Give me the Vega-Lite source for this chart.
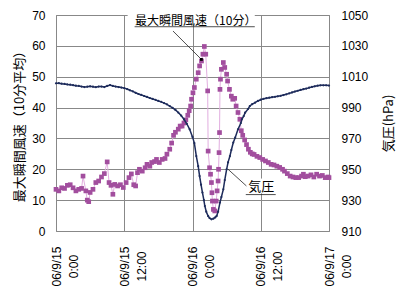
{
  "$schema": "https://vega.github.io/schema/vega-lite/v6.json",
  "width": 273,
  "height": 216,
  "autosize": {"type": "none"},
  "padding": {"left": 56, "top": 15, "right": 71, "bottom": 69},
  "background": "white",
  "config": {
    "view": {"stroke": "#888888", "strokeWidth": 1},
    "font": "Liberation Sans",
    "axis": {"labelColor": "#000000", "labelFontSize": 12, "labelFont": "Liberation Sans", "titleColor": "#000000"}
  },
  "datasets": {
    "wind": [
      {"h": 0, "v": 13.5}, {"h": 0.5, "v": 13.0}, {"h": 1, "v": 14.0}, {"h": 1.5, "v": 13.8}, {"h": 2, "v": 14.8},
      {"h": 2.5, "v": 15.0}, {"h": 3, "v": 14.0}, {"h": 3.5, "v": 13.0}, {"h": 4, "v": 13.5}, {"h": 4.5, "v": 13.8},
      {"h": 4.75, "v": 17.8}, {"h": 5.25, "v": 13.0}, {"h": 5.5, "v": 10.0}, {"h": 5.75, "v": 9.5}, {"h": 6, "v": 12.5},
      {"h": 6.5, "v": 13.5}, {"h": 7, "v": 15.7}, {"h": 7.5, "v": 16.2}, {"h": 8, "v": 17.5}, {"h": 8.5, "v": 18.6},
      {"h": 9, "v": 22.4}, {"h": 9.33, "v": 15.7}, {"h": 9.67, "v": 14.8}, {"h": 10, "v": 11.9}, {"h": 10.33, "v": 15.1},
      {"h": 10.83, "v": 14.6}, {"h": 11.33, "v": 15.0}, {"h": 11.83, "v": 14.1}, {"h": 12.33, "v": 15.7}, {"h": 12.83, "v": 17.3},
      {"h": 13.25, "v": 18.5}, {"h": 13.67, "v": 15.0}, {"h": 14, "v": 14.6}, {"h": 14.33, "v": 18.9}, {"h": 14.67, "v": 20.0},
      {"h": 15.17, "v": 19.4}, {"h": 15.67, "v": 20.5}, {"h": 16, "v": 21.6}, {"h": 16.5, "v": 21.0}, {"h": 16.83, "v": 22.2},
      {"h": 17.33, "v": 22.5}, {"h": 17.67, "v": 23.2}, {"h": 18.17, "v": 22.2}, {"h": 18.67, "v": 23.2}, {"h": 19.17, "v": 23.5},
      {"h": 19.5, "v": 24.9}, {"h": 20, "v": 26.5}, {"h": 20.33, "v": 28.5}, {"h": 20.67, "v": 31.0}, {"h": 21, "v": 32.0},
      {"h": 21.5, "v": 33.0}, {"h": 21.83, "v": 34.0}, {"h": 22.17, "v": 34.0}, {"h": 22.5, "v": 35.0}, {"h": 22.83, "v": 36.0},
      {"h": 23.17, "v": 37.5}, {"h": 23.42, "v": 39.0}, {"h": 23.67, "v": 40.5}, {"h": 23.83, "v": 42.7}, {"h": 24.08, "v": 44.8},
      {"h": 24.33, "v": 46.5}, {"h": 24.67, "v": 49.2}, {"h": 25, "v": 51.3}, {"h": 25.25, "v": 53.5}, {"h": 25.58, "v": 55.1},
      {"h": 25.83, "v": 57.3}, {"h": 26.08, "v": 59.8}, {"h": 26.33, "v": 57.3}, {"h": 26.67, "v": 45.4}, {"h": 26.75, "v": 25.9},
      {"h": 27, "v": 20.5}, {"h": 27.17, "v": 18.4}, {"h": 27.33, "v": 15.7}, {"h": 27.42, "v": 12.4}, {"h": 27.5, "v": 9.7},
      {"h": 27.67, "v": 7.0}, {"h": 27.92, "v": 6.5}, {"h": 28.17, "v": 9.7}, {"h": 28.33, "v": 13.0}, {"h": 28.5, "v": 16.2},
      {"h": 28.58, "v": 20.0}, {"h": 28.67, "v": 25.4}, {"h": 28.75, "v": 31.9}, {"h": 28.83, "v": 45.9}, {"h": 28.92, "v": 49.2},
      {"h": 29.08, "v": 52.4}, {"h": 29.42, "v": 54.6}, {"h": 29.67, "v": 53.0}, {"h": 30, "v": 50.8}, {"h": 30.17, "v": 48.6},
      {"h": 30.5, "v": 45.9}, {"h": 30.83, "v": 43.7}, {"h": 31.08, "v": 42.7}, {"h": 31.42, "v": 43.0}, {"h": 31.67, "v": 40.5},
      {"h": 32, "v": 38.4}, {"h": 32.33, "v": 36.2}, {"h": 32.58, "v": 32.5}, {"h": 32.83, "v": 31.0}, {"h": 33.17, "v": 29.5},
      {"h": 33.5, "v": 28.0}, {"h": 33.83, "v": 26.5}, {"h": 34.17, "v": 25.5}, {"h": 34.5, "v": 25.0}, {"h": 34.83, "v": 24.8},
      {"h": 35.33, "v": 24.2}, {"h": 35.83, "v": 23.8}, {"h": 36.33, "v": 23.2}, {"h": 36.83, "v": 22.7}, {"h": 37.33, "v": 22.2},
      {"h": 37.83, "v": 21.6}, {"h": 38.33, "v": 21.4}, {"h": 38.83, "v": 21.0}, {"h": 39.33, "v": 20.6}, {"h": 39.83, "v": 20.0},
      {"h": 40.17, "v": 19.4}, {"h": 40.67, "v": 18.6}, {"h": 41.17, "v": 17.8}, {"h": 41.67, "v": 17.5}, {"h": 42.17, "v": 17.3},
      {"h": 42.67, "v": 17.3}, {"h": 43.17, "v": 17.8}, {"h": 43.5, "v": 18.4}, {"h": 43.83, "v": 17.6}, {"h": 44.33, "v": 17.8},
      {"h": 44.83, "v": 18.2}, {"h": 45.33, "v": 17.5}, {"h": 45.83, "v": 18.4}, {"h": 46.33, "v": 17.8}, {"h": 46.83, "v": 18.0},
      {"h": 47.33, "v": 17.3}, {"h": 47.83, "v": 17.5}, {"h": 48, "v": 17.3}
    ],
    "pres": [
      {"h": 0, "p": 1005.7}, {"h": 0.5, "p": 1005.8}, {"h": 1, "p": 1005.5}, {"h": 1.5, "p": 1005.3}, {"h": 2, "p": 1005.0},
      {"h": 2.5, "p": 1004.8}, {"h": 3, "p": 1004.5}, {"h": 3.5, "p": 1004.2}, {"h": 4, "p": 1004.0}, {"h": 4.5, "p": 1003.6},
      {"h": 5, "p": 1003.3}, {"h": 5.5, "p": 1003.5}, {"h": 6, "p": 1003.8}, {"h": 6.5, "p": 1003.5}, {"h": 7, "p": 1003.2},
      {"h": 7.5, "p": 1003.6}, {"h": 8, "p": 1003.6}, {"h": 8.5, "p": 1003.3}, {"h": 9, "p": 1004.0}, {"h": 9.5, "p": 1004.6},
      {"h": 10, "p": 1004.0}, {"h": 10.5, "p": 1003.6}, {"h": 11, "p": 1003.3}, {"h": 11.5, "p": 1003.0}, {"h": 12, "p": 1002.6},
      {"h": 12.5, "p": 1002.0}, {"h": 13, "p": 1001.2}, {"h": 13.5, "p": 1000.5}, {"h": 14, "p": 999.6}, {"h": 14.5, "p": 998.8},
      {"h": 15, "p": 998.2}, {"h": 15.5, "p": 997.5}, {"h": 16, "p": 996.9}, {"h": 16.5, "p": 996.2}, {"h": 17, "p": 995.6},
      {"h": 17.5, "p": 995.0}, {"h": 18, "p": 994.3}, {"h": 18.5, "p": 993.7}, {"h": 19, "p": 992.9}, {"h": 19.5, "p": 992.1},
      {"h": 20, "p": 991.0}, {"h": 20.5, "p": 989.8}, {"h": 21, "p": 988.5}, {"h": 21.5, "p": 986.8}, {"h": 22, "p": 984.8},
      {"h": 22.5, "p": 982.4}, {"h": 23, "p": 979.5}, {"h": 23.5, "p": 975.9}, {"h": 24, "p": 971.0}, {"h": 24.33, "p": 967.0},
      {"h": 24.67, "p": 958.6}, {"h": 25, "p": 952.0}, {"h": 25.25, "p": 945.6}, {"h": 25.5, "p": 940.0}, {"h": 25.75, "p": 934.9},
      {"h": 26, "p": 930.0}, {"h": 26.17, "p": 926.2}, {"h": 26.42, "p": 922.5}, {"h": 26.75, "p": 919.7}, {"h": 27, "p": 918.4},
      {"h": 27.33, "p": 917.6}, {"h": 27.67, "p": 918.0}, {"h": 28, "p": 918.8}, {"h": 28.25, "p": 919.8}, {"h": 28.5, "p": 922.5},
      {"h": 28.83, "p": 928.4}, {"h": 29.08, "p": 932.0}, {"h": 29.42, "p": 937.0}, {"h": 29.67, "p": 943.0}, {"h": 30, "p": 950.0},
      {"h": 30.25, "p": 954.5}, {"h": 30.58, "p": 958.6}, {"h": 30.83, "p": 962.5}, {"h": 31.17, "p": 967.3}, {"h": 31.5, "p": 970.5},
      {"h": 32, "p": 975.9}, {"h": 32.5, "p": 980.0}, {"h": 32.67, "p": 982.4}, {"h": 33, "p": 984.5}, {"h": 33.25, "p": 986.7},
      {"h": 33.75, "p": 989.0}, {"h": 34.08, "p": 991.0}, {"h": 34.5, "p": 992.2}, {"h": 35, "p": 993.2}, {"h": 35.5, "p": 994.3},
      {"h": 36, "p": 995.1}, {"h": 36.5, "p": 995.7}, {"h": 37, "p": 996.1}, {"h": 37.5, "p": 996.4}, {"h": 38, "p": 996.7},
      {"h": 38.5, "p": 997.0}, {"h": 39, "p": 997.3}, {"h": 39.5, "p": 997.6}, {"h": 40, "p": 998.1}, {"h": 40.5, "p": 998.6},
      {"h": 41, "p": 999.2}, {"h": 41.5, "p": 999.8}, {"h": 42, "p": 1000.4}, {"h": 42.5, "p": 1000.9}, {"h": 43, "p": 1001.4},
      {"h": 43.5, "p": 1001.9}, {"h": 44, "p": 1002.3}, {"h": 44.5, "p": 1002.9}, {"h": 45, "p": 1003.4}, {"h": 45.5, "p": 1003.8},
      {"h": 46, "p": 1004.2}, {"h": 46.5, "p": 1004.4}, {"h": 47, "p": 1004.4}, {"h": 47.5, "p": 1004.4}, {"h": 48, "p": 1004.3}
    ],
    "boxes": [
      {"h": 12.6, "h2": 34.95, "v": 66.5, "v2": 72.5},
      {"h": 33.33, "h2": 38.67, "v": 12.2, "v2": 17.0}
    ],
    "rules": [
      {"h": 13.82, "h2": 34.95, "v": 66.2, "v2": 66.2},
      {"h": 33.37, "h2": 38.63, "v": 11.8, "v2": 11.8},
      {"h": 20.57, "h2": 25.57, "v": 64.8, "v2": 55.6},
      {"h": 30.25, "h2": 33.48, "v": 20.0, "v2": 14.6}
    ],
    "label1": [{"h": 24.57, "v": 68.05, "label": "最大瞬間風速（10分）"}],
    "label2": [{"h": 36.1, "v": 14.3, "label": "気圧"}],
    "dots": [{"h": 25.57, "v": 55.6}]
  },
  "layer": [
    {
      "data": {"name": "wind"},
      "mark": {"type": "line", "color": "#E2AEE0", "strokeWidth": 1},
      "encoding": {
        "x": {
          "field": "h", "type": "quantitative",
          "scale": {"domain": [0, 48], "nice": false, "zero": false},
          "axis": {
            "title": null, "grid": true, "gridColor": "#888888", "domain": false, "ticks": false,
            "values": [0, 12, 24, 36, 48],
            "labelAngle": 270, "labelAlign": "center", "labelBaseline": "middle", "labelPadding": 35,
            "labelLineHeight": 17, "labelFontSize": 12, "labelFlush": false, "labelOverlap": false,
            "labelExpr": "['06/9/' + (15 + floor(datum.value / 24)), (datum.value % 24) + ':00']"
          }
        },
        "y": {
          "field": "v", "type": "quantitative",
          "scale": {"domain": [0, 70], "nice": false, "zero": false},
          "axis": {
            "title": "最大瞬間風速（10分平均）", "titleFont": "Noto Sans CJK JP", "titleFontSize": 13, "titleFontWeight": "normal",
            "titlePadding": 5, "values": [0, 10, 20, 30, 40, 50, 60, 70], "grid": true, "gridColor": "#888888",
            "domain": false, "ticks": false, "labelPadding": 11, "labelFontSize": 12, "labelOverlap": false
          }
        }
      }
    },
    {
      "data": {"name": "wind"},
      "mark": {"type": "point", "shape": "square", "filled": true, "size": 22, "color": "#A24E9E", "opacity": 1},
      "encoding": {
        "x": {"field": "h", "type": "quantitative"},
        "y": {"field": "v", "type": "quantitative", "scale": {"domain": [0, 70], "nice": false, "zero": false}, "axis": null}
      }
    },
    {
      "data": {"name": "boxes"},
      "mark": {"type": "rect", "color": "white"},
      "encoding": {
        "x": {"field": "h", "type": "quantitative"},
        "x2": {"field": "h2"},
        "y": {"field": "v", "type": "quantitative", "scale": {"domain": [0, 70], "nice": false, "zero": false}, "axis": null},
        "y2": {"field": "v2"}
      }
    },
    {
      "data": {"name": "rules"},
      "mark": {"type": "rule", "color": "#222222", "strokeWidth": 0.8},
      "encoding": {
        "x": {"field": "h", "type": "quantitative"},
        "x2": {"field": "h2"},
        "y": {"field": "v", "type": "quantitative", "scale": {"domain": [0, 70], "nice": false, "zero": false}, "axis": null},
        "y2": {"field": "v2"}
      }
    },
    {
      "data": {"name": "dots"},
      "mark": {"type": "point", "shape": "square", "filled": true, "size": 8, "color": "#000000", "opacity": 1},
      "encoding": {
        "x": {"field": "h", "type": "quantitative"},
        "y": {"field": "v", "type": "quantitative", "scale": {"domain": [0, 70], "nice": false, "zero": false}, "axis": null}
      }
    },
    {
      "data": {"name": "label1"},
      "mark": {"type": "text", "font": "Noto Sans CJK JP", "fontSize": 12, "color": "#000000", "align": "center", "baseline": "middle"},
      "encoding": {
        "x": {"field": "h", "type": "quantitative"},
        "y": {"field": "v", "type": "quantitative", "scale": {"domain": [0, 70], "nice": false, "zero": false}, "axis": null},
        "text": {"field": "label"}
      }
    },
    {
      "data": {"name": "label2"},
      "mark": {"type": "text", "font": "Noto Sans CJK JP", "fontSize": 13, "color": "#000000", "align": "center", "baseline": "middle"},
      "encoding": {
        "x": {"field": "h", "type": "quantitative"},
        "y": {"field": "v", "type": "quantitative", "scale": {"domain": [0, 70], "nice": false, "zero": false}, "axis": null},
        "text": {"field": "label"}
      }
    },
    {
      "data": {"name": "pres"},
      "mark": {"type": "line", "color": "#1D2B5B", "strokeWidth": 1.5, "point": {"filled": true, "size": 5, "color": "#1D2B5B"}},
      "encoding": {
        "x": {"field": "h", "type": "quantitative"},
        "y": {
          "field": "p", "type": "quantitative",
          "scale": {"domain": [910, 1050], "nice": false, "zero": false},
          "axis": {
            "orient": "right", "title": "気圧(hPa)", "titleFont": "Noto Sans CJK JP", "titleFontSize": 13, "titleFontWeight": "normal",
            "titleAngle": 270, "titleBaseline": "top", "titleAlign": "center", "titlePadding": 15, "format": "d",
            "values": [910, 930, 950, 970, 990, 1010, 1030, 1050], "grid": false, "domain": false, "ticks": false,
            "labelPadding": 12, "labelFontSize": 12, "labelOverlap": false
          }
        }
      }
    }
  ],
  "resolve": {"scale": {"y": "independent"}}
}
